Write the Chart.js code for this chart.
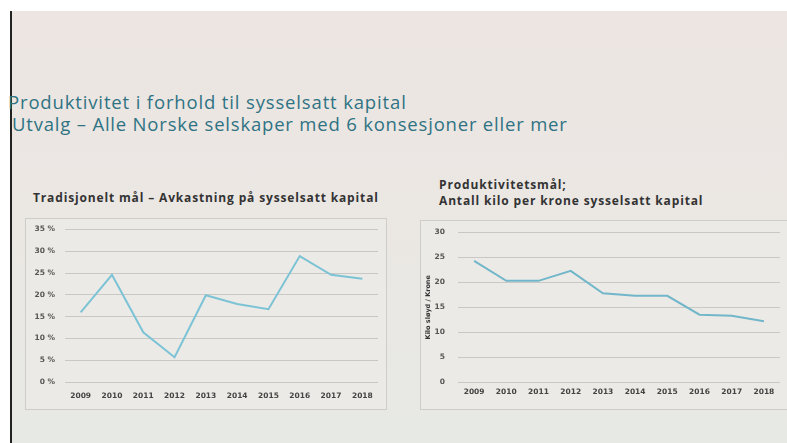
<!DOCTYPE html>
<html><head><meta charset="utf-8">
<script src="https://cdn.jsdelivr.net/npm/chart.js@4"></script>
<style>
html,body{margin:0;padding:0;}
body{width:787px;height:443px;position:relative;overflow:hidden;background:#fff;font-family:"Open Sans",sans-serif;}
#slide{position:absolute;left:10px;top:11px;width:777px;height:432px;background:linear-gradient(180deg,#ece5e2 0%,#ebe7e3 45%,#e7e9e4 100%);border-left:2px solid #222;}
.t1{position:absolute;left:8px;top:90px;font-size:18.5px;color:#2f7383;white-space:nowrap;line-height:24px;letter-spacing:0.85px;}
.t2{position:absolute;left:12px;top:112px;font-size:18.5px;color:#2f7383;white-space:nowrap;line-height:24px;letter-spacing:0.8px;}
.ct{position:absolute;font-family:"Open Sans",sans-serif;font-weight:bold;font-size:12px;color:#333;white-space:nowrap;line-height:16px;letter-spacing:0.85px;}
.box{position:absolute;background:#eceae6;border:1px solid #cfcdc8;}
canvas{position:absolute;}
</style></head>
<body>
<div id="slide"></div>
<div class="t1">Produktivitet i forhold til sysselsatt kapital</div>
<div class="t2">Utvalg – Alle Norske selskaper med 6 konsesjoner eller mer</div>
<div class="ct" style="left:33px;top:190px;">Tradisjonelt mål – Avkastning på sysselsatt kapital</div>
<div class="ct" style="left:439px;top:177px;">Produktivitetsmål;<br>Antall kilo per krone sysselsatt kapital</div>
<div class="box" style="left:25px;top:218px;width:360px;height:190px;"></div>
<div class="box" style="left:420px;top:220px;width:372px;height:188px;"></div>
<canvas id="c1" style="left:26px;top:215px;" width="359" height="193"></canvas>
<canvas id="c2" style="left:421px;top:215px;" width="366" height="193"></canvas>
<script>
const years = ["2009","2010","2011","2012","2013","2014","2015","2016","2017","2018"];
const avkastning = [16.0, 24.6, 11.4, 5.7, 19.9, 17.9, 16.7, 28.9, 24.6, 23.7];
const kiloPerKrone = [24.3, 20.3, 20.3, 22.3, 17.8, 17.3, 17.3, 13.5, 13.3, 12.2];
const pctTicks = [0,5,10,15,20,25,30,35];
const kiloTicks = [0,5,10,15,20,25,30];

const tickFont = {family:"'DejaVu Sans', sans-serif", size:7.5, weight:"bold"};
function opts(maxV, tickVals, fmt, yTitle, pad, yW, yPad, xH, xPad){
  return {
    responsive:false, animation:false,
    layout:{padding:pad},
    plugins:{legend:{display:false},tooltip:{enabled:false}},
    scales:{
      x:{offset:true,grid:{display:false},border:{display:false},
         afterFit:(ax)=>{ax.height=xH;},
         ticks:{color:"#444",font:tickFont,padding:xPad,maxRotation:0,autoSkip:false}},
      y:{min:0,max:maxV,afterBuildTicks:(ax)=>{ax.ticks=tickVals.map(v=>({value:v}));},
         afterFit:(ax)=>{ax.width=yW;},
         grid:{color:"#c9c8c4",lineWidth:1,drawTicks:false},border:{display:false},
         ticks:{color:"#555",font:tickFont,padding:yPad,callback:fmt},
         title:{display:!!yTitle,text:yTitle,color:"#333",font:{family:"'DejaVu Sans', sans-serif",size:6.5,weight:"bold"},padding:{top:3,bottom:0}}}
    }
  };
}
new Chart(document.getElementById("c1"),{
  type:"line",
  data:{labels:years,datasets:[{data:avkastning,borderColor:"#7cc3d6",borderWidth:2,pointRadius:0,tension:0,fill:false}]},
  options:opts(35,pctTicks,v=>v+" %",null,{left:0,right:7,top:5,bottom:0},39,10,26,2)
});
new Chart(document.getElementById("c2"),{
  type:"line",
  data:{labels:years,datasets:[{data:kiloPerKrone,borderColor:"#72b6ca",borderWidth:2,pointRadius:0,tension:0,fill:false}]},
  options:opts(30,kiloTicks,v=>v,"Kilo sløyd / Krone",{left:0,right:7,top:5,bottom:0},37,13,26,-2)
});
</script>
</body></html>
